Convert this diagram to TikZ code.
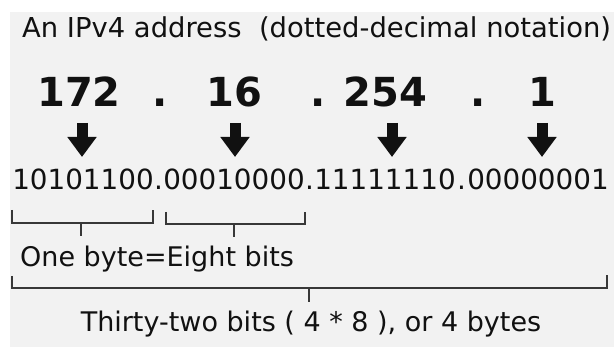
\documentclass[tikz,border=0pt]{standalone}
\usepackage{fontspec}
\setmainfont{DejaVu Sans}
\usetikzlibrary{arrows.meta}
\definecolor{bg}{HTML}{F2F2F2}
\definecolor{ink}{HTML}{111111}
\definecolor{brk}{HTML}{383838}
\begin{document}
\begin{tikzpicture}[x=1pt,y=-1pt,
  txt/.style={inner sep=0pt, text=ink, font=\fontsize{27}{32}\selectfont},
  bin/.style={inner sep=0pt, text=ink, font=\fontsize{27.8}{32}\selectfont},
  big/.style={inner sep=0pt, text=ink, font=\fontsize{40}{48}\selectfont\bfseries},
  downarrow/.style={draw=ink, line width=11pt, -{Triangle[width=28pt,length=20pt]}},
  bracket/.style={draw=brk, line width=2pt}]
\useasboundingbox (0,0) rectangle (614,347);
\fill[white] (0,0) rectangle (614,347);
\fill[bg] (10,12) rectangle (614,347);
% title
\node[txt, anchor=base west, font=\fontsize{27.4}{32}\selectfont] (title) at (22,38) {An IPv4 address\ \ (dotted-decimal notation)};
% decimal numbers
\node[big, anchor=base] (n1) at (79,107) {172};
\node[big, anchor=base] (d1) at (160,107) {.};
\node[big, anchor=base] (n2) at (234.5,107) {16};
\node[big, anchor=base] (d2) at (318,107) {.};
\node[big, anchor=base] (n3) at (385.5,107) {254};
\node[big, anchor=base] (d3) at (478,107) {.};
\node[big, anchor=base] (n4) at (542.5,107) {1};
% binary bytes
\node[bin, anchor=base] (b1) at (83,190) {10101100};
\node[bin, anchor=base] (p1) at (158.5,190) {.};
\node[bin, anchor=base] (b2) at (234,190) {00010000};
\node[bin, anchor=base] (p2) at (309.5,190) {.};
\node[bin, anchor=base] (b3) at (385,190) {11111110};
\node[bin, anchor=base] (p3) at (461.5,190) {.};
\node[bin, anchor=base] (b4) at (538,190) {00000001};
% arrows
\coordinate (a1) at (82,123);  \coordinate (h1) at (82,157);
\coordinate (a2) at (235,123); \coordinate (h2) at (235,157);
\coordinate (a3) at (392,123); \coordinate (h3) at (392,157);
\coordinate (a4) at (542,123); \coordinate (h4) at (542,157);
\draw[downarrow] (a1) -- (h1);
\draw[downarrow] (a2) -- (h2);
\draw[downarrow] (a3) -- (h3);
\draw[downarrow] (a4) -- (h4);
% byte brackets
\draw[bracket] (12,210) -- (12,223) -- (153,223) -- (153,210);
\draw[bracket] (81,223) -- (81,236);
\draw[bracket] (166,212) -- (166,224) -- (305,224) -- (305,212);
\draw[bracket] (234,224) -- (234,237);
\node[txt, anchor=base west] (bytelbl) at (20,267) {One byte=Eight bits};
% total bracket
\draw[bracket] (12,276) -- (12,288) -- (607,288) -- (607,275);
\draw[bracket] (309,288) -- (309,302);
\node[txt, anchor=base] (total) at (311,332) {Thirty-two bits ( 4 * 8 ), or 4 bytes};
\end{tikzpicture}
\end{document}
